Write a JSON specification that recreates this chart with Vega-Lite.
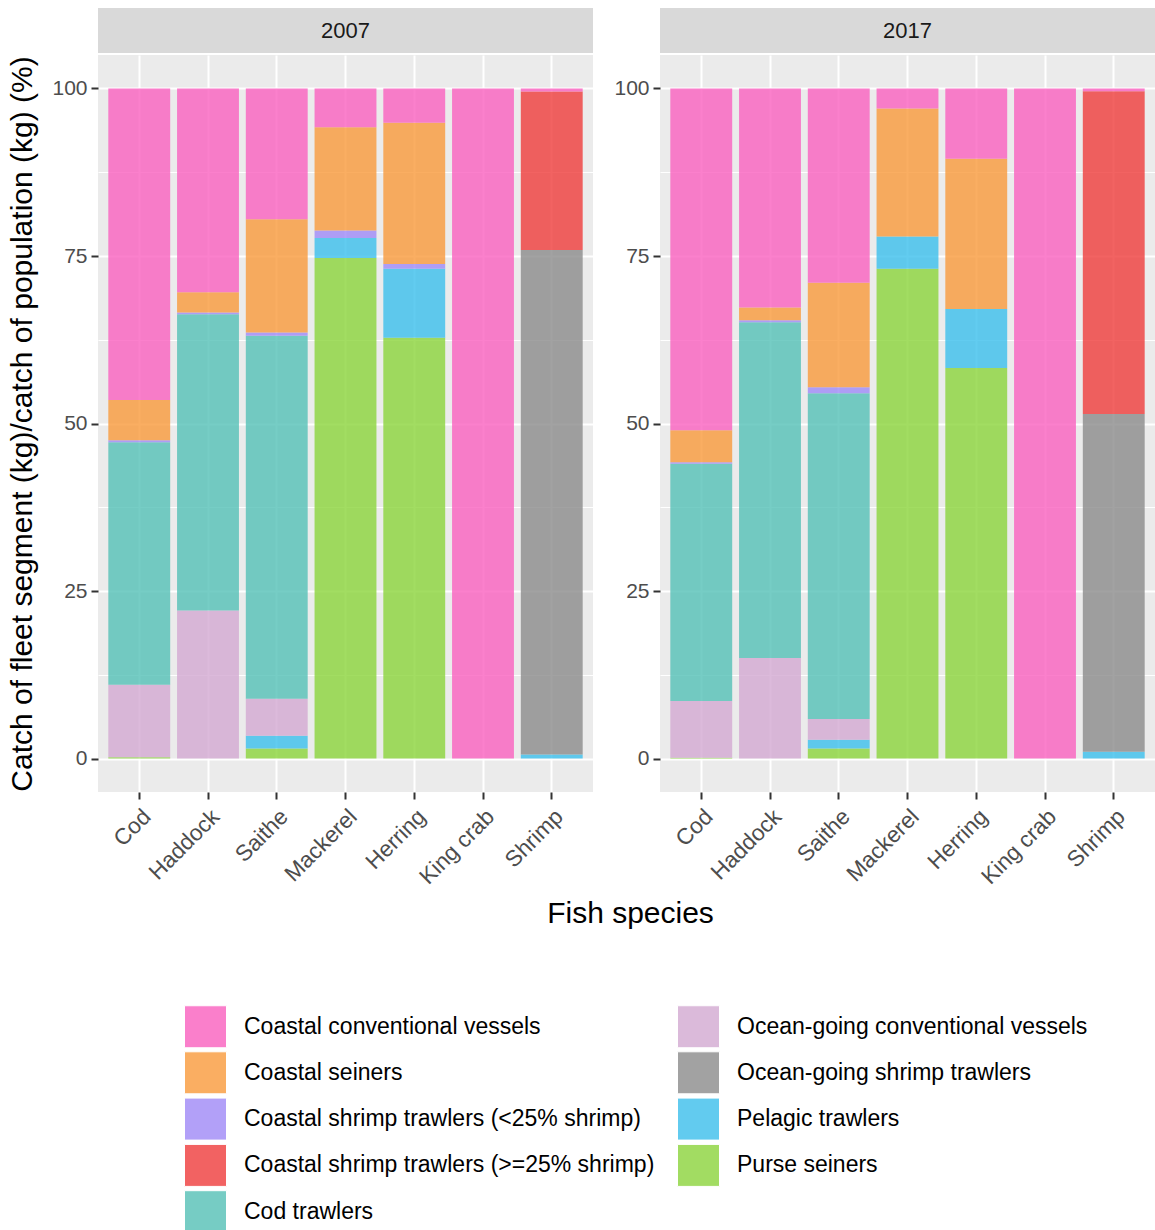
{
  "$schema": "https://vega.github.io/schema/vega-lite/v6.json",
  "padding": {"left": 7, "top": 8, "right": 0, "bottom": 0},
  "background": "white",
  "datasets": {
    "catch": [
      {"year": "2007", "species": "Cod", "fleet": "Purse seiners", "pct": 0.2},
      {"year": "2007", "species": "Cod", "fleet": "Ocean-going conventional vessels", "pct": 10.8},
      {"year": "2007", "species": "Cod", "fleet": "Cod trawlers", "pct": 36.2},
      {"year": "2007", "species": "Cod", "fleet": "Coastal shrimp trawlers (<25% shrimp)", "pct": 0.3},
      {"year": "2007", "species": "Cod", "fleet": "Coastal seiners", "pct": 6.0},
      {"year": "2007", "species": "Cod", "fleet": "Coastal conventional vessels", "pct": 46.5},
      {"year": "2007", "species": "Haddock", "fleet": "Ocean-going conventional vessels", "pct": 22.1},
      {"year": "2007", "species": "Haddock", "fleet": "Cod trawlers", "pct": 44.2},
      {"year": "2007", "species": "Haddock", "fleet": "Coastal shrimp trawlers (<25% shrimp)", "pct": 0.25},
      {"year": "2007", "species": "Haddock", "fleet": "Coastal seiners", "pct": 3.05},
      {"year": "2007", "species": "Haddock", "fleet": "Coastal conventional vessels", "pct": 30.4},
      {"year": "2007", "species": "Saithe", "fleet": "Purse seiners", "pct": 1.5},
      {"year": "2007", "species": "Saithe", "fleet": "Pelagic trawlers", "pct": 1.9},
      {"year": "2007", "species": "Saithe", "fleet": "Ocean-going conventional vessels", "pct": 5.5},
      {"year": "2007", "species": "Saithe", "fleet": "Cod trawlers", "pct": 54.2},
      {"year": "2007", "species": "Saithe", "fleet": "Coastal shrimp trawlers (<25% shrimp)", "pct": 0.5},
      {"year": "2007", "species": "Saithe", "fleet": "Coastal seiners", "pct": 16.9},
      {"year": "2007", "species": "Saithe", "fleet": "Coastal conventional vessels", "pct": 19.5},
      {"year": "2007", "species": "Mackerel", "fleet": "Purse seiners", "pct": 74.7},
      {"year": "2007", "species": "Mackerel", "fleet": "Pelagic trawlers", "pct": 3.0},
      {"year": "2007", "species": "Mackerel", "fleet": "Coastal shrimp trawlers (<25% shrimp)", "pct": 1.1},
      {"year": "2007", "species": "Mackerel", "fleet": "Coastal seiners", "pct": 15.4},
      {"year": "2007", "species": "Mackerel", "fleet": "Coastal conventional vessels", "pct": 5.8},
      {"year": "2007", "species": "Herring", "fleet": "Purse seiners", "pct": 62.8},
      {"year": "2007", "species": "Herring", "fleet": "Pelagic trawlers", "pct": 10.3},
      {"year": "2007", "species": "Herring", "fleet": "Coastal shrimp trawlers (<25% shrimp)", "pct": 0.7},
      {"year": "2007", "species": "Herring", "fleet": "Coastal seiners", "pct": 21.1},
      {"year": "2007", "species": "Herring", "fleet": "Coastal conventional vessels", "pct": 5.1},
      {"year": "2007", "species": "King crab", "fleet": "Coastal conventional vessels", "pct": 100},
      {"year": "2007", "species": "Shrimp", "fleet": "Pelagic trawlers", "pct": 0.6},
      {"year": "2007", "species": "Shrimp", "fleet": "Ocean-going shrimp trawlers", "pct": 75.3},
      {"year": "2007", "species": "Shrimp", "fleet": "Coastal shrimp trawlers (>=25% shrimp)", "pct": 23.65},
      {"year": "2007", "species": "Shrimp", "fleet": "Coastal conventional vessels", "pct": 0.45},
      {"year": "2017", "species": "Cod", "fleet": "Purse seiners", "pct": 0.1},
      {"year": "2017", "species": "Cod", "fleet": "Ocean-going conventional vessels", "pct": 8.5},
      {"year": "2017", "species": "Cod", "fleet": "Cod trawlers", "pct": 35.4},
      {"year": "2017", "species": "Cod", "fleet": "Coastal shrimp trawlers (<25% shrimp)", "pct": 0.2},
      {"year": "2017", "species": "Cod", "fleet": "Coastal seiners", "pct": 4.8},
      {"year": "2017", "species": "Cod", "fleet": "Coastal conventional vessels", "pct": 51.0},
      {"year": "2017", "species": "Haddock", "fleet": "Ocean-going conventional vessels", "pct": 15.0},
      {"year": "2017", "species": "Haddock", "fleet": "Cod trawlers", "pct": 50.1},
      {"year": "2017", "species": "Haddock", "fleet": "Coastal shrimp trawlers (<25% shrimp)", "pct": 0.3},
      {"year": "2017", "species": "Haddock", "fleet": "Coastal seiners", "pct": 1.9},
      {"year": "2017", "species": "Haddock", "fleet": "Coastal conventional vessels", "pct": 32.7},
      {"year": "2017", "species": "Saithe", "fleet": "Purse seiners", "pct": 1.5},
      {"year": "2017", "species": "Saithe", "fleet": "Pelagic trawlers", "pct": 1.3},
      {"year": "2017", "species": "Saithe", "fleet": "Ocean-going conventional vessels", "pct": 3.1},
      {"year": "2017", "species": "Saithe", "fleet": "Cod trawlers", "pct": 48.6},
      {"year": "2017", "species": "Saithe", "fleet": "Coastal shrimp trawlers (<25% shrimp)", "pct": 0.9},
      {"year": "2017", "species": "Saithe", "fleet": "Coastal seiners", "pct": 15.6},
      {"year": "2017", "species": "Saithe", "fleet": "Coastal conventional vessels", "pct": 29.0},
      {"year": "2017", "species": "Mackerel", "fleet": "Purse seiners", "pct": 73.1},
      {"year": "2017", "species": "Mackerel", "fleet": "Pelagic trawlers", "pct": 4.8},
      {"year": "2017", "species": "Mackerel", "fleet": "Coastal seiners", "pct": 19.1},
      {"year": "2017", "species": "Mackerel", "fleet": "Coastal conventional vessels", "pct": 3.0},
      {"year": "2017", "species": "Herring", "fleet": "Purse seiners", "pct": 58.3},
      {"year": "2017", "species": "Herring", "fleet": "Pelagic trawlers", "pct": 8.8},
      {"year": "2017", "species": "Herring", "fleet": "Coastal seiners", "pct": 22.4},
      {"year": "2017", "species": "Herring", "fleet": "Coastal conventional vessels", "pct": 10.5},
      {"year": "2017", "species": "King crab", "fleet": "Coastal conventional vessels", "pct": 100},
      {"year": "2017", "species": "Shrimp", "fleet": "Pelagic trawlers", "pct": 1.0},
      {"year": "2017", "species": "Shrimp", "fleet": "Ocean-going shrimp trawlers", "pct": 50.4},
      {"year": "2017", "species": "Shrimp", "fleet": "Coastal shrimp trawlers (>=25% shrimp)", "pct": 48.2},
      {"year": "2017", "species": "Shrimp", "fleet": "Coastal conventional vessels", "pct": 0.4}
    ],
    "years": [{"year": "2007"}, {"year": "2017"}]
  },
  "bounds": "flush",
  "columns": 2,
  "spacing": {"row": 2, "column": 67},
  "resolve": {"scale": {"x": "independent", "y": "independent"}},
  "concat": [
    {
      "width": 495, "height": 45,
      "data": {"name": "years"},
      "transform": [{"filter": "datum.year === '2007'"}],
      "view": {"fill": "#D9D9D9", "stroke": null},
      "mark": {"type": "text", "fontSize": 22, "color": "#1A1A1A"},
      "encoding": {"text": {"field": "year", "type": "nominal"}}
    },
    {
      "width": 495, "height": 45,
      "data": {"name": "years"},
      "transform": [{"filter": "datum.year === '2017'"}],
      "view": {"fill": "#D9D9D9", "stroke": null},
      "mark": {"type": "text", "fontSize": 22, "color": "#1A1A1A"},
      "encoding": {"text": {"field": "year", "type": "nominal"}}
    },
    {
      "width": 495, "height": 737,
      "data": {"name": "catch"},
      "transform": [{"filter": "datum.year === '2007'"}],
      "mark": {"type": "bar", "opacity": 0.8},
      "encoding": {
        "x": {"field": "species", "type": "nominal",
              "sort": ["Cod", "Haddock", "Saithe", "Mackerel", "Herring", "King crab", "Shrimp"],
              "scale": {"paddingInner": 0.1, "paddingOuter": 0.15},
              "axis": {"title": "Fish species", "titleX": 532, "labelAngle": -45}},
        "y": {"field": "pct", "type": "quantitative", "stack": "zero",
              "scale": {"domain": [-5, 105], "nice": false, "zero": false},
              "axis": {"title": "Catch of fleet segment (kg)/catch of population (kg) (%)",
                       "values": [0, 12.5, 25, 37.5, 50, 62.5, 75, 87.5, 100],
                       "labelExpr": "datum.value % 25 === 0 ? datum.label : ''",
                       "format": "d",
                       "tickOpacity": {"condition": {"test": "datum.value % 25 !== 0", "value": 0}, "value": 1},
                       "gridWidth": {"condition": {"test": "datum.value % 25 !== 0", "value": 1}, "value": 2}}},
        "color": {"field": "fleet", "type": "nominal",
                  "scale": {
                    "domain": ["Coastal conventional vessels", "Coastal seiners", "Coastal shrimp trawlers (<25% shrimp)", "Coastal shrimp trawlers (>=25% shrimp)", "Cod trawlers", "Ocean-going conventional vessels", "Ocean-going shrimp trawlers", "Pelagic trawlers", "Purse seiners"],
                    "range": ["#FA60BF", "#F99A3B", "#9F89F7", "#EF3C3B", "#54C0B6", "#D3A9D2", "#8B8B8B", "#3BBFEC", "#8BD43B"]},
                  "legend": {"title": null, "orient": "none", "legendX": 86, "legendY": 997, "columns": 2, "columnPadding": 20, "rowPadding": -0.7, "symbolType": "square", "symbolSize": 1764, "symbolStrokeColor": "white", "symbolStrokeWidth": 1, "symbolOpacity": 0.8, "labelFontSize": 23, "labelOffset": 17, "labelLimit": 600, "labelColor": "black"}},
        "order": {"field": "fleet", "sort": "descending"}
      }
    },
    {
      "width": 495, "height": 737,
      "data": {"name": "catch"},
      "transform": [{"filter": "datum.year === '2017'"}],
      "mark": {"type": "bar", "opacity": 0.8},
      "encoding": {
        "x": {"field": "species", "type": "nominal",
              "sort": ["Cod", "Haddock", "Saithe", "Mackerel", "Herring", "King crab", "Shrimp"],
              "scale": {"paddingInner": 0.1, "paddingOuter": 0.15},
              "axis": {"title": null, "labelAngle": -45}},
        "y": {"field": "pct", "type": "quantitative", "stack": "zero",
              "scale": {"domain": [-5, 105], "nice": false, "zero": false},
              "axis": {"title": null,
                       "values": [0, 12.5, 25, 37.5, 50, 62.5, 75, 87.5, 100],
                       "labelExpr": "datum.value % 25 === 0 ? datum.label : ''",
                       "format": "d",
                       "tickOpacity": {"condition": {"test": "datum.value % 25 !== 0", "value": 0}, "value": 1},
                       "gridWidth": {"condition": {"test": "datum.value % 25 !== 0", "value": 1}, "value": 2}}},
        "color": {"field": "fleet", "type": "nominal",
                  "scale": {
                    "domain": ["Coastal conventional vessels", "Coastal seiners", "Coastal shrimp trawlers (<25% shrimp)", "Coastal shrimp trawlers (>=25% shrimp)", "Cod trawlers", "Ocean-going conventional vessels", "Ocean-going shrimp trawlers", "Pelagic trawlers", "Purse seiners"],
                    "range": ["#FA60BF", "#F99A3B", "#9F89F7", "#EF3C3B", "#54C0B6", "#D3A9D2", "#8B8B8B", "#3BBFEC", "#8BD43B"]},
                  "legend": {"title": null, "orient": "none", "legendX": 86, "legendY": 997, "columns": 2, "columnPadding": 20, "rowPadding": -0.7, "symbolType": "square", "symbolSize": 1764, "symbolStrokeColor": "white", "symbolStrokeWidth": 1, "symbolOpacity": 0.8, "labelFontSize": 23, "labelOffset": 17, "labelLimit": 600, "labelColor": "black"}},
        "order": {"field": "fleet", "sort": "descending"}
      }
    }
  ],
  "config": {
    "font": "Liberation Sans",
    "view": {"fill": "#EBEBEB", "stroke": null},
    "axis": {"domain": false, "grid": true, "gridColor": "white", "gridWidth": 2, "tickColor": "#333333", "tickSize": 7, "tickWidth": 2, "labelColor": "#4D4D4D", "labelFontSize": 21, "labelPadding": 4, "titleFontSize": 30, "titleFontWeight": "normal", "titleColor": "black"},
    "axisX": {"titlePadding": 10, "labelFontSize": 22.5, "labelPadding": 6},
    "axisY": {"titlePadding": 14}
  }
}
